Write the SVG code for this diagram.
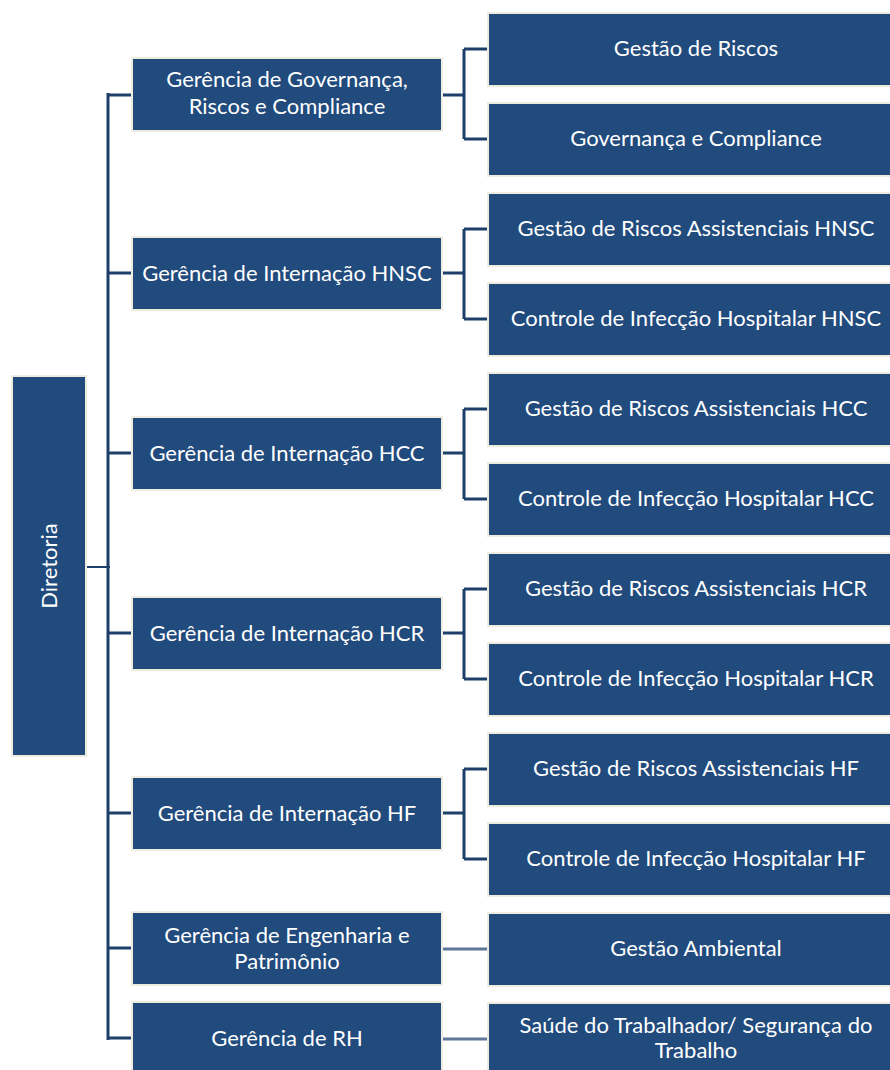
<svg xmlns="http://www.w3.org/2000/svg" width="890" height="1070" viewBox="0 0 890 1070">
<style>
.b{fill:#214A7D;stroke:#EEECE1;stroke-width:2}
.t{fill:#FFFFFF;font-family:Lato,"Liberation Sans",sans-serif;font-size:22px;text-anchor:middle}
.c{fill:none;stroke:#1F3F6B;stroke-width:3}
.c2{fill:none;stroke:#1F3F6B;stroke-width:2}
.c3{fill:none;stroke:#5F7799;stroke-width:3}
</style>
<rect width="890" height="1070" fill="#FFFFFF"/>
<g id="connectors">
<path class="c" d="M108 93V1040"/>
<path class="c2" d="M87 567H110"/>
<path class="c" d="M108 95H132M108 273H132M108 453H132M108 633H132M108 813H132M108 948H132M108 1038H132"/>
<path class="c" d="M442 95H464M464 49V139M464 49H488M464 139H488"/>
<path class="c" d="M442 273H464M464 229V319M464 229H488M464 319H488"/>
<path class="c" d="M442 453H464M464 409V499M464 409H488M464 499H488"/>
<path class="c" d="M442 633H464M464 589V679M464 589H488M464 679H488"/>
<path class="c" d="M442 813H464M464 769V859M464 769H488M464 859H488"/>
<path class="c3" d="M442 949H488M442 1039H488"/>
</g>
<g id="diretoria"><rect class="b" x="12" y="376" width="74" height="380"/><text class="t" transform="translate(57 566) rotate(-90)">Diretoria</text></g>
<g id="g-grc"><rect class="b" x="132" y="58" width="310" height="73"/><text class="t" x="287" y="87">Gerência de Governança,</text><text class="t" x="287" y="114">Riscos e Compliance</text></g>
<g id="g-hnsc"><rect class="b" x="132" y="237" width="310" height="73"/><text class="t" x="287" y="281">Gerência de Internação HNSC</text></g>
<g id="g-hcc"><rect class="b" x="132" y="417" width="310" height="73"/><text class="t" x="287" y="461">Gerência de Internação HCC</text></g>
<g id="g-hcr"><rect class="b" x="132" y="597" width="310" height="73"/><text class="t" x="287" y="641">Gerência de Internação HCR</text></g>
<g id="g-hf"><rect class="b" x="132" y="777" width="310" height="73"/><text class="t" x="287" y="821">Gerência de Internação HF</text></g>
<g id="g-eng"><rect class="b" x="132" y="912" width="310" height="73"/><text class="t" x="287" y="943">Gerência de Engenharia e</text><text class="t" x="287" y="969">Patrimônio</text></g>
<g id="g-rh"><rect class="b" x="132" y="1002" width="310" height="73"/><text class="t" x="287" y="1046">Gerência de RH</text></g>
<g id="r1"><rect class="b" x="488" y="13" width="416" height="73"/><text class="t" x="696" y="56">Gestão de Riscos</text></g>
<g id="r2"><rect class="b" x="488" y="103" width="416" height="73"/><text class="t" x="696" y="146">Governança e Compliance</text></g>
<g id="r3"><rect class="b" x="488" y="193" width="416" height="73"/><text class="t" x="696" y="236">Gestão de Riscos Assistenciais HNSC</text></g>
<g id="r4"><rect class="b" x="488" y="283" width="416" height="73"/><text class="t" x="696" y="326">Controle de Infecção Hospitalar HNSC</text></g>
<g id="r5"><rect class="b" x="488" y="373" width="416" height="73"/><text class="t" x="696" y="416">Gestão de Riscos Assistenciais HCC</text></g>
<g id="r6"><rect class="b" x="488" y="463" width="416" height="73"/><text class="t" x="696" y="506">Controle de Infecção Hospitalar HCC</text></g>
<g id="r7"><rect class="b" x="488" y="553" width="416" height="73"/><text class="t" x="696" y="596">Gestão de Riscos Assistenciais HCR</text></g>
<g id="r8"><rect class="b" x="488" y="643" width="416" height="73"/><text class="t" x="696" y="686">Controle de Infecção Hospitalar HCR</text></g>
<g id="r9"><rect class="b" x="488" y="733" width="416" height="73"/><text class="t" x="696" y="776">Gestão de Riscos Assistenciais HF</text></g>
<g id="r10"><rect class="b" x="488" y="823" width="416" height="73"/><text class="t" x="696" y="866">Controle de Infecção Hospitalar HF</text></g>
<g id="r11"><rect class="b" x="488" y="913" width="416" height="73"/><text class="t" x="696" y="956">Gestão Ambiental</text></g>
<g id="r12"><rect class="b" x="488" y="1003" width="416" height="73"/><text class="t" x="696" y="1033">Saúde do Trabalhador/ Segurança do</text><text class="t" x="696" y="1058">Trabalho</text></g>
</svg>
